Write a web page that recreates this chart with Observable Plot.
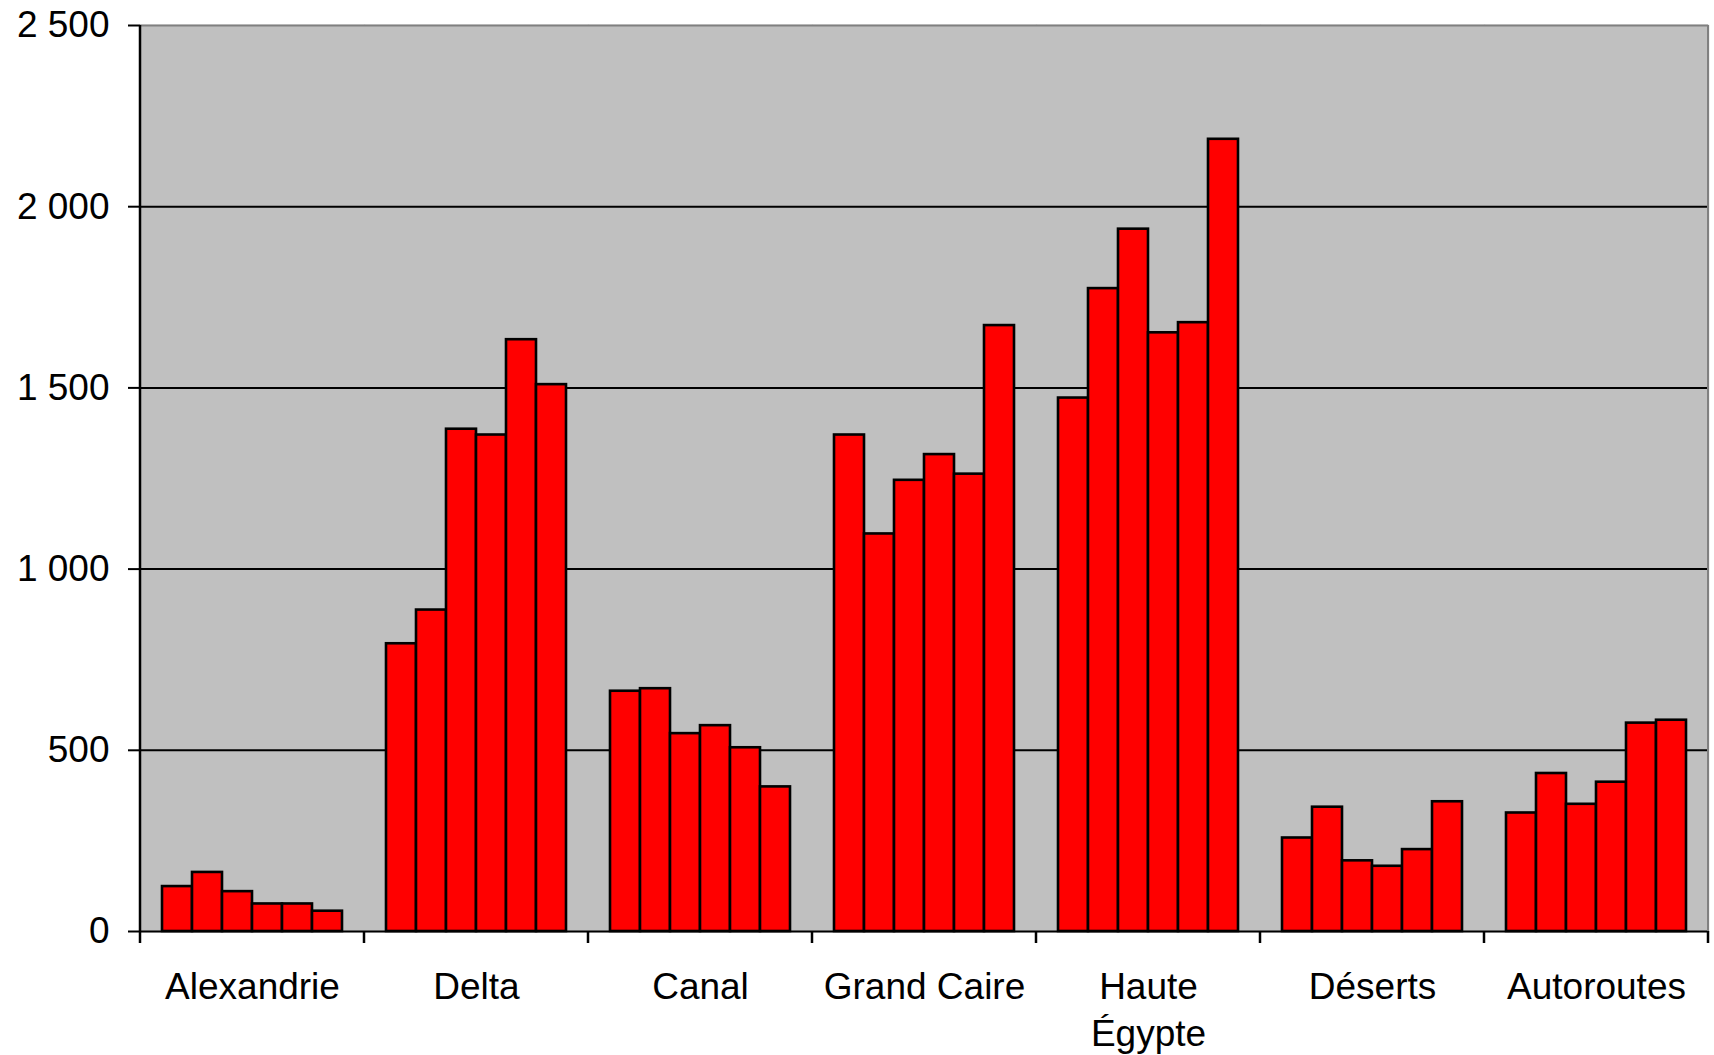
<!DOCTYPE html>
<html>
<head>
<meta charset="utf-8">
<script src="https://cdn.jsdelivr.net/npm/d3@7"></script>
<script src="https://cdn.jsdelivr.net/npm/@observablehq/plot@0.6"></script>
<style>
  html, body { margin: 0; padding: 0; background: white; }
  svg { display: block; }
</style>
</head>
<body>
<div id="chart"></div>
<script>
const categories = ["Alexandrie", "Delta", "Canal", "Grand Caire", "Haute Égypte", "Déserts", "Autoroutes"];
const series = ["1", "2", "3", "4", "5", "6"];
const alexandrie = [124, 163, 110, 76, 76, 56];
const delta = [794, 887, 1386, 1370, 1633, 1509];
const canal = [663, 670, 546, 568, 507, 399];
const grandCaire = [1370, 1097, 1245, 1316, 1262, 1672];
const hauteEgypte = [1472, 1774, 1938, 1652, 1680, 2186];
const deserts = [258, 343, 195, 180, 226, 358];
const autoroutes = [327, 436, 351, 412, 575, 583];
const yTicks = [0, 500, 1000, 1500, 2000, 2500];
const categoryLabels = {"Haute Égypte": "Haute\nÉgypte"};

const valuesByCategory = [alexandrie, delta, canal, grandCaire, hauteEgypte, deserts, autoroutes];
const data = categories.flatMap((c, i) => series.map((s, j) => ({category: c, series: s, value: valuesByCategory[i][j]})));

const fmt = d => d3.format(",")(d).replace(/,/g, " ");

const plot = Plot.plot({
  width: 1714,
  height: 1055,
  marginLeft: 138,
  marginRight: 4,
  marginTop: 25,
  marginBottom: 124,
  style: {fontFamily: "'Liberation Sans', Arial, sans-serif", fontSize: "37px", color: "black", background: "white"},
  fx: {domain: categories, padding: 0, label: null},
  x: {domain: series, paddingInner: 0, paddingOuter: 0.7, axis: null},
  y: {domain: [0, 2500], label: null},
  marks: [
    Plot.frame({fill: "#c0c0c0", stroke: "#c0c0c0", strokeWidth: 1.5}),
    Plot.gridY(yTicks.slice(1, -1), {stroke: "black", strokeOpacity: 1, strokeWidth: 2}),
    Plot.ruleY([2500], {stroke: "#808080", strokeWidth: 2}),
    Plot.barY(data, {fx: "category", x: "series", y: "value", fill: "#ff0000", stroke: "black", strokeWidth: 2.6}),
    Plot.ruleY([0], {stroke: "black", strokeWidth: 2}),
    Plot.axisY(yTicks, {tickSize: 12, tickPadding: 19, tickFormat: fmt, fontSize: 37, strokeWidth: 2, stroke: "black"}),
    Plot.axisFx({anchor: "bottom", tickSize: 0, tickPadding: 34, tickFormat: d => categoryLabels[d] ?? d, lineHeight: 1.28, fontSize: 37})
  ]
});

// Category boundary ticks, left axis line and right border, placed from Plot's own scales
const fx = plot.scale("fx");
const y = plot.scale("y");
const bounds = categories.map(c => fx.apply(c));
const xEnd = bounds[bounds.length - 1] + fx.bandwidth;
bounds.push(xEnd);
const y0 = y.apply(0), yTop = y.apply(2500);
const g = d3.select(plot).append("g");
g.append("line").attr("x1", xEnd).attr("x2", xEnd).attr("y1", yTop).attr("y2", y0)
  .attr("stroke", "#808080").attr("stroke-width", 2);
g.append("line").attr("x1", bounds[0]).attr("x2", bounds[0]).attr("y1", yTop).attr("y2", y0)
  .attr("stroke", "black").attr("stroke-width", 2.5);
g.selectAll("line.tick").data(bounds).join("line").attr("class", "tick")
  .attr("x1", d => d).attr("x2", d => d).attr("y1", y0).attr("y2", y0 + 12)
  .attr("stroke", "black").attr("stroke-width", 2.5);

document.getElementById("chart").append(plot);
</script>
</body>
</html>
